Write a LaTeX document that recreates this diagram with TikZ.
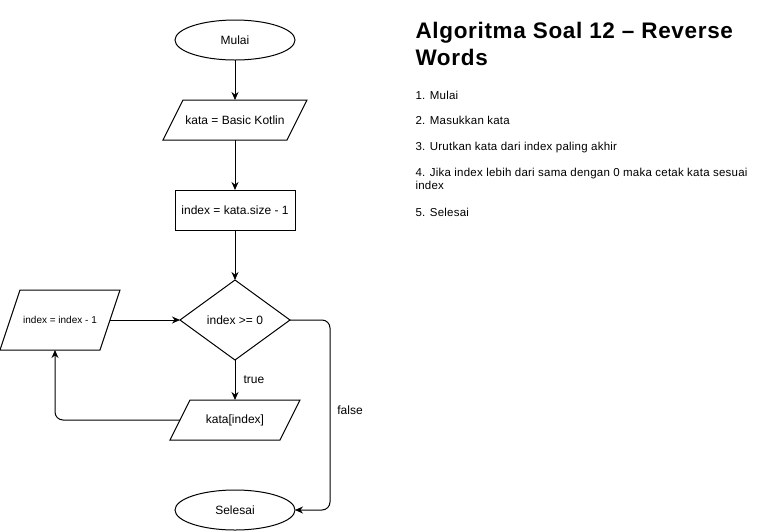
\documentclass[tikz,border=0pt]{standalone}
\usepackage{fontspec}
\setmainfont{Liberation Sans}
\newfontfamily\ttlfont[LetterSpace=3]{Liberation Sans}
\newfontfamily\itmfont[LetterSpace=2]{Liberation Sans}
\usetikzlibrary{arrows.meta,shapes.geometric,calc}
\begin{document}
\begin{tikzpicture}[x=1pt,y=-1pt,line width=1pt,
  base/.style={inner sep=0pt,outer sep=0pt,font=\fontsize{12}{14}\selectfont},
  term/.style={base,ellipse,draw,minimum width=120pt,minimum height=40pt},
  proc/.style={base,rectangle,draw,minimum width=120pt,minimum height=40pt},
  iobox/.style={base,rectangle,draw=none},
  dec/.style={base,diamond,draw,minimum width=110pt,minimum height=80pt,aspect=1.375},
  arr/.style={-{Stealth[length=8pt,width=7pt]}},
  lbl/.style={font=\fontsize{12}{14}\selectfont,inner sep=0pt},
  ttl/.style={font=\ttlfont\fontsize{22.5}{27}\selectfont\bfseries,anchor=base west,inner sep=0pt},
  itm/.style={font=\itmfont\fontsize{11.5}{13}\selectfont,anchor=base west,inner sep=0pt,align=left}
]
\useasboundingbox (0,0) rectangle (761,531);
% nodes
\node[term] (mulai) at (235,40) {Mulai};
\node[iobox,minimum width=124pt,minimum height=40pt] (kata) at (235,120) {kata = Basic Kotlin};
\node[proc] (init) at (235,210) {index = kata.size - 1};
\node[dec] (dia) at (235,320) {index >= 0};
\node[iobox,minimum width=100pt,minimum height=60pt,font=\fontsize{10}{12}\selectfont] (dec1) at (60,320) {index = index - 1};
\node[iobox,minimum width=110pt,minimum height=40pt] (out) at (235,420) {kata[index]};
\node[term] (sel) at (235,510) {Selesai};
% parallelogram outlines
\foreach \n in {kata,dec1,out}{
  \draw ([xshift=10pt]\n.north west) -- ([xshift=10pt]\n.north east)
     -- ([xshift=-10pt]\n.south east) -- ([xshift=-10pt]\n.south west) -- cycle;
}
% connectors
\draw[arr] (mulai) -- (kata);
\draw[arr] (kata) -- (init);
\draw[arr] (init) -- (dia);
\draw[arr] (dia) -- node[lbl,right=8pt,pos=0.5] {true} (out);
\draw[arr] (dec1.east) -- (dia.west);
\coordinate (lp) at ([xshift=-5pt]dec1.south);
\draw[arr,rounded corners=8pt] (out.west) -| (lp);
\coordinate (fr) at (330,320);
\draw[arr,rounded corners=8pt] (dia.east) -- (fr) |- (sel.east);
\node[lbl] (flbl) at (350,410) {false};
% text
\node[ttl] (t1) at (415,38) {Algoritma Soal 12 – Reverse};
\node[ttl] (t2) at (415,65) {Words};
\node[itm] (i1) at (415,99) {1. Mulai};
\node[itm] (i2) at (415,124) {2. Masukkan kata};
\node[itm] (i3) at (415,150) {3. Urutkan kata dari index paling akhir};
\node[itm] (i4) at (415,176) {4. Jika index lebih dari sama dengan 0 maka cetak kata sesuai};
\node[itm] (i4b) at (415,189) {index};
\node[itm] (i5) at (415,216) {5. Selesai};
\end{tikzpicture}
\end{document}
